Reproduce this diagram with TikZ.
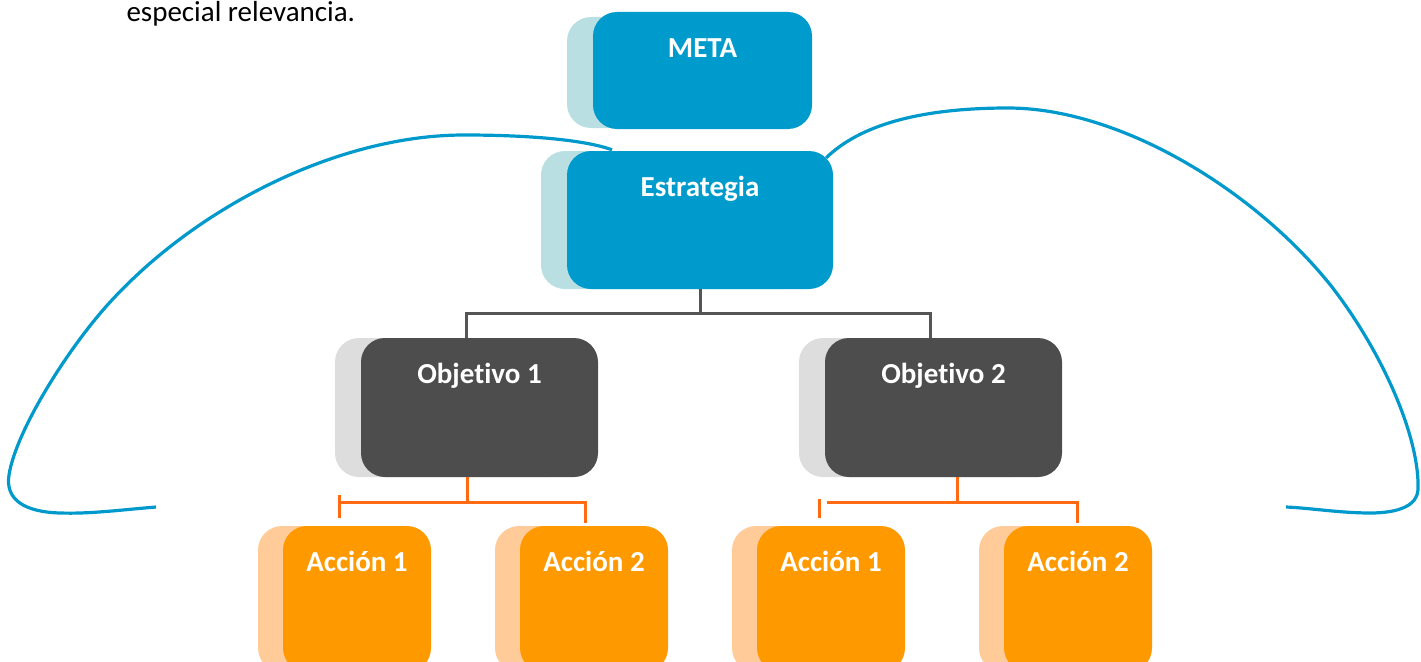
\documentclass[tikz,border=0pt]{standalone}
\usepackage{fontspec}
\setmainfont{Carlito}[Ligatures={NoCommon}]
\usepackage{tikz}
\usetikzlibrary{positioning,calc}
\definecolor{MetaBlue}{RGB}{0,155,205}
\definecolor{MetaBlueLight}{RGB}{185,223,227}
\definecolor{ObjGray}{RGB}{77,77,77}
\definecolor{ObjGrayLight}{RGB}{221,221,221}
\definecolor{AccOrange}{RGB}{255,153,0}
\definecolor{AccOrangeLight}{RGB}{255,204,153}
\definecolor{LineOrange}{RGB}{255,106,19}
\definecolor{LineGray}{RGB}{85,85,85}
\definecolor{CurveBlue}{RGB}{0,153,204}
\tikzset{
	box/.style={rectangle,rounded corners=24pt,inner sep=0pt,text height=45.5pt,
		text=white,font=\fontsize{29}{34}\selectfont\bfseries},
	back/.style={rectangle,rounded corners=24pt,inner sep=0pt},
	treeline/.style={line width=3pt,color=LineGray},
	subline/.style={line width=3pt,color=LineOrange},
	loopline/.style={line width=3.2pt,color=CurveBlue}
}

\begin{document}
\begin{tikzpicture}[x=1pt,y=-1pt]
			\useasboundingbox (0,0) rectangle (1421,661);
			\clip (0,0) rectangle (1421,661);
			\node [anchor=base west,font=\fontsize{29}{34}\selectfont, name = prev] at (123,22) {especial relevancia.};
			% meta and strategy
			\node [back,fill=MetaBlueLight,minimum width=219pt,minimum height=111pt, name = metaB] at (676.5,72.5) {};
			\node [box,fill=MetaBlue,minimum width=219pt,text depth=71.5pt, name = meta] at (702.5,70.5) {META};
			\node [back,fill=MetaBlueLight,minimum width=266pt,minimum height=138pt, name = estrB] at (674,220) {};
			\node [box,fill=MetaBlue,minimum width=266pt,text depth=92.5pt, name = estr] at (700,220) {Estrategia};
			% objectives
			\node [back,fill=ObjGrayLight,minimum width=237pt,minimum height=139pt, name = obj1B] at (453.5,407.5) {};
			\node [box,fill=ObjGray,minimum width=237pt,text depth=93.5pt, name = obj1] at (479.5,407.5) {Objetivo 1};
			\node [back,fill=ObjGrayLight,minimum width=237pt,minimum height=139pt, name = obj2B] at (917.5,407.5) {};
			\node [box,fill=ObjGray,minimum width=237pt,text depth=93.5pt, name = obj2] at (943.5,407.5) {Objetivo 2};
			% actions
			\node [back,fill=AccOrangeLight,minimum width=148pt,minimum height=146pt, name = acc11B] at (332,599) {};
			\node [box,fill=AccOrange,minimum width=148pt,text depth=100.5pt, name = acc11] at (357,599) {Acción 1};
			\node [back,fill=AccOrangeLight,minimum width=148pt,minimum height=146pt, name = acc12B] at (569,599) {};
			\node [box,fill=AccOrange,minimum width=148pt,text depth=100.5pt, name = acc12] at (594,599) {Acción 2};
			\node [back,fill=AccOrangeLight,minimum width=148pt,minimum height=146pt, name = acc21B] at (806,599) {};
			\node [box,fill=AccOrange,minimum width=148pt,text depth=100.5pt, name = acc21] at (831,599) {Acción 1};
			\node [back,fill=AccOrangeLight,minimum width=148pt,minimum height=146pt, name = acc22B] at (1053,599) {};
			\node [box,fill=AccOrange,minimum width=148pt,text depth=100.5pt, name = acc22] at (1078,599) {Acción 2};
			% tree
			\draw [treeline] (estr.south) -- ++(0,24) coordinate (split);
			\draw [treeline] ([xshift=-13.5pt]obj1.north) |- (split) -| ([xshift=-13pt]obj2.north);
			\draw [subline] ([xshift=-12.5pt]obj1.south) -- ++(0,25) coordinate (fork1);
			\draw [subline] ([xshift=-18pt]acc11.north |- fork1) -| ([xshift=-9pt,yshift=3pt]acc12.north);
			\draw [subline] ([xshift=-18pt,yshift=8pt]acc11.north) -- ++(0,-23);
			\draw [subline] ([xshift=13.5pt]obj2.south) -- ++(0,25) coordinate (fork2);
			\draw [subline] ([xshift=-4pt]acc21.north |- fork2) -| ([xshift=-1pt,yshift=3pt]acc22.north);
			\draw [subline] ([xshift=-12pt,yshift=8pt]acc21.north) -- ++(0,-19);
			% loops
			\coordinate (lend) at (156,507);
			\coordinate (rend) at (1286,507);
			\draw [loopline] (lend) .. controls (120,510) and (90,514) .. (60,513) .. controls (25,512) and (5,500) .. (9,475) .. controls (16,430) and (70,345) .. (112,300) .. controls (200,205) and (340,135) .. (464,135) .. controls (530,135) and (585,140) .. ([xshift=-88pt,yshift=1pt]estr.north);
			\draw [loopline] ([xshift=-7pt,yshift=-7pt]estr.north east) .. controls (860,125) and (920,108) .. (1008,108) .. controls (1120,108) and (1255,190) .. (1332,287) .. controls (1385,356) and (1420,440) .. (1418,490) .. controls (1417,505) and (1400,513) .. (1370,513) .. controls (1340,513) and (1310,508) .. (rend);
\end{tikzpicture}
\end{document}
